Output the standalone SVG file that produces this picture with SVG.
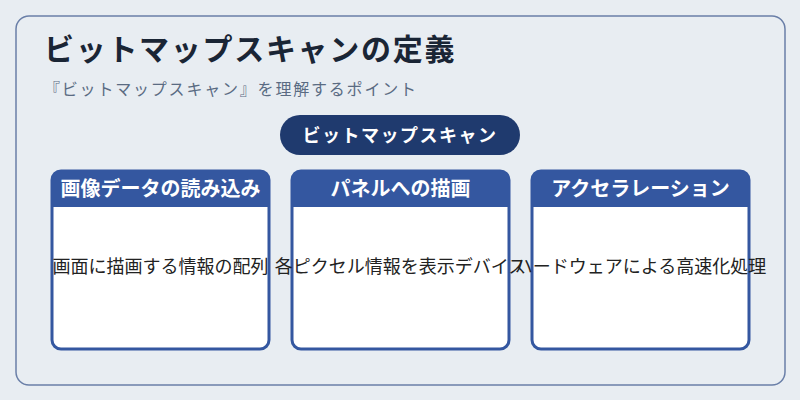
<svg xmlns="http://www.w3.org/2000/svg" width="800" height="400" viewBox="0 0 800 400">
<defs>
<style>
.t{font-family:"Noto Sans CJK JP","Noto Sans",sans-serif}
.title{font-size:30px;font-weight:700;fill:#1a2535;letter-spacing:1.7px}
.sub{font-size:16px;fill:#5a6b82;letter-spacing:1.8px}
.pill{font-size:18px;font-weight:700;fill:#ffffff;letter-spacing:1.5px}
.hd{font-size:20px;font-weight:700;fill:#ffffff}
.body{font-size:18px;fill:#222222}
.box{fill:#ffffff;stroke:#3457a0;stroke-width:3}
.hdr{fill:#3457a0}
</style>
</defs>
<rect x="0" y="0" width="800" height="400" fill="#e8edf2"/>
<rect x="16" y="16" width="769" height="369" rx="13" fill="#e8edf2" stroke="#6a7fa8" stroke-width="1.5"/>
<text class="t title" x="44" y="60">ビットマップスキャンの定義</text>
<text class="t sub" x="44" y="95">『ビットマップスキャン』を理解するポイント</text>
<g id="root">
<rect x="280" y="115" width="240" height="40" rx="20" fill="#1f3a6e"/>
<text class="t pill" x="400" y="142" text-anchor="middle">ビットマップスキャン</text>
</g>
<g id="connectors"></g>
<g id="node1">
<rect class="box" x="52" y="171" width="217" height="178" rx="9"/>
<path class="hdr" d="M52,207 V180 a9,9 0 0 1 9,-9 H260 a9,9 0 0 1 9,9 V207 Z"/>
<text class="t hd" x="160.5" y="196" text-anchor="middle">画像データの読み込み</text>
<text class="t body" x="160.5" y="273" text-anchor="middle">画面に描画する情報の配列</text>
</g>
<g id="node2">
<rect class="box" x="292" y="171" width="217" height="178" rx="9"/>
<path class="hdr" d="M292,207 V180 a9,9 0 0 1 9,-9 H500 a9,9 0 0 1 9,9 V207 Z"/>
<text class="t hd" x="400.5" y="196" text-anchor="middle">パネルへの描画</text>
<text class="t body" x="400.5" y="273" text-anchor="middle">各ピクセル情報を表示デバイス</text>
</g>
<g id="node3">
<rect class="box" x="532" y="171" width="217" height="178" rx="9"/>
<path class="hdr" d="M532,207 V180 a9,9 0 0 1 9,-9 H740 a9,9 0 0 1 9,9 V207 Z"/>
<text class="t hd" x="640.5" y="196" text-anchor="middle">アクセラレーション</text>
<text class="t body" x="640.5" y="273" text-anchor="middle">ハードウェアによる高速化処理</text>
</g>
</svg>
